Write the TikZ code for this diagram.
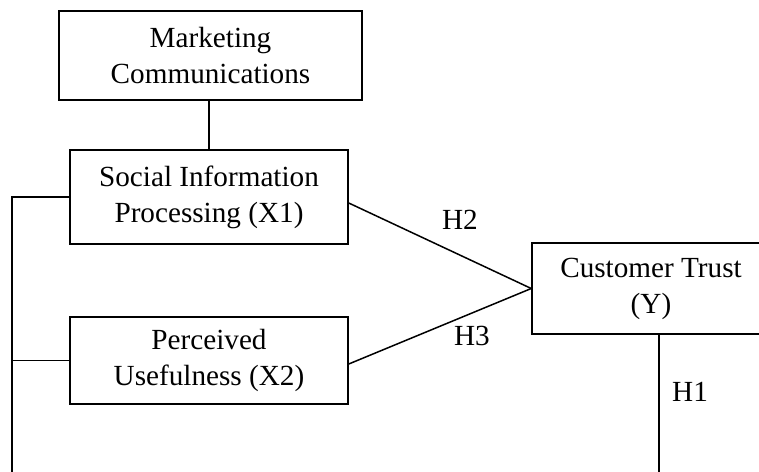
\documentclass[tikz,border=0pt]{standalone}
\usepackage{fontspec}
\setmainfont{Liberation Serif}
\usepackage{tikz}
\usetikzlibrary{positioning, calc}

\tikzset{
  varbox/.style={draw, line width=0.75pt, align=center, inner sep=2pt, font=\fontsize{14.6}{18}\selectfont},
  hyplabel/.style={font=\fontsize{14.6}{18}\selectfont, inner sep=0pt}
}

\begin{document}
\begin{tikzpicture}[x=0.5pt, y=-0.5pt, line width=0.75pt]
  \useasboundingbox (0,0) rectangle (759,471);
  \node[varbox, minimum width=151.5pt, minimum height=44.5pt] (mc) at (210.5,55.5) {Marketing\\Communications};
  \node[varbox, minimum width=139pt, minimum height=47pt] (x1) at (209,197) {Social Information\\Processing (X1)};
  \node[varbox, minimum width=139pt, minimum height=43.5pt] (x2) at (209,360.5) {Perceived\\Usefulness (X2)};
  \node[varbox, minimum width=119pt, minimum height=45.5pt] (ct) at (651,288.5) {Customer Trust\\(Y)};
  \coordinate (bus) at (12,197);
  \coordinate (busend) at (12,480);
  \coordinate (h1end) at (659,480);
  \draw (mc.south -| x1.north) -- (x1.north);
  \draw (x1.west) -- (bus) -- (busend);
  \draw (x2.west) -- (x2.west -| bus);
  \draw ([yshift=-3pt]x1.east) -- (ct.west);
  \draw ([yshift=-1.75pt]x2.east) -- (ct.west);
  \draw (ct.south -| h1end) -- (h1end);
  \node[hyplabel] (h2) at (460,220) {H2};
  \node[hyplabel] (h3) at (472,336) {H3};
  \node[hyplabel] (h1) at (690,392) {H1};
\end{tikzpicture}
\end{document}
